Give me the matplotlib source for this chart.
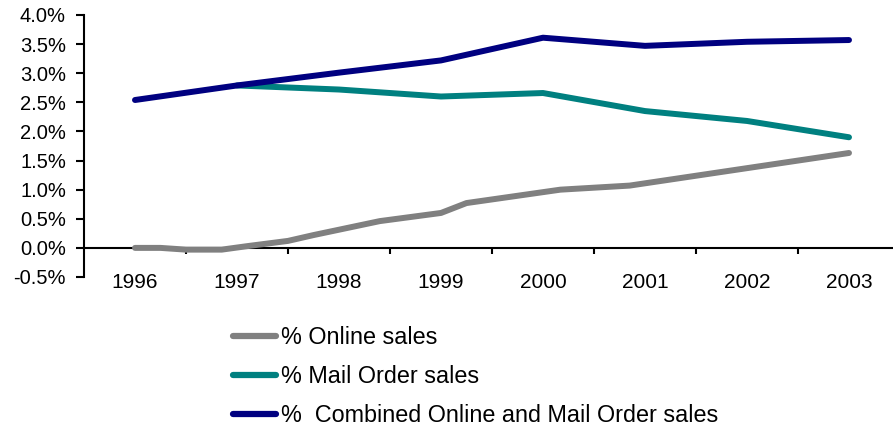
import matplotlib
matplotlib.use("Agg")
import matplotlib.pyplot as plt
import numpy as np
from matplotlib.ticker import FuncFormatter

plt.rcParams['font.family'] = ['Liberation Sans', 'DejaVu Sans']

years = ['1996', '1997', '1998', '1999', '2000', '2001', '2002', '2003']
combined_pct = [2.54, 2.79, 3.01, 3.22, 3.61, 3.47, 3.54, 3.57]
mail_pct = [np.nan, 2.79, 2.72, 2.60, 2.66, 2.35, 2.18, 1.90]
# online sales is reported more often than yearly (position in years after 1996)
online_pos = [0, 0.25, 0.5, 0.85, 1.1, 1.5, 1.75, 2.4, 3.0, 3.25, 4.17, 4.85, 7.0]
online_pct = [0.0, 0.0, -0.03, -0.03, 0.03, 0.12, 0.22, 0.46, 0.6, 0.77, 1.0, 1.07, 1.63]

W, H = 893, 430
fig = plt.figure(figsize=(W / 100, H / 100), dpi=100)
# plot area: left 84px, top 15px, bottom 277px, runs past the right edge
ax = fig.add_axes([84 / W, (H - 277) / H, 816 / W, 262 / H])

lw = 4.3
x = np.arange(len(years))
l1, = ax.plot(online_pos, online_pct, color='#808080', lw=lw, solid_capstyle='round',
              solid_joinstyle='round', label='% Online sales', zorder=3)
l2, = ax.plot(x, mail_pct, color='#008080', lw=lw, solid_capstyle='round',
              solid_joinstyle='round', label='% Mail Order sales', zorder=4)
l3, = ax.plot(x, combined_pct, color='#000080', lw=lw, solid_capstyle='round',
              solid_joinstyle='round', label='%  Combined Online and Mail Order sales', zorder=5)

ax.set_xlim(-0.5, 7.5)
ax.set_ylim(-0.5, 4.0)
ax.set_yticks(np.arange(-0.5, 4.01, 0.5))
ax.yaxis.set_major_formatter(FuncFormatter(lambda v, p: '%.1f%%' % v))

ax.set_xticks(x)
ax.set_xticklabels(years)
ax.set_xticks(np.arange(0.5, 7.5, 1), minor=True)
ax.tick_params(axis='x', which='major', length=0, pad=18, labelsize=15)
ax.tick_params(axis='x', which='minor', length=4.5, width=1.5, direction='out')
ax.tick_params(axis='y', length=6, width=1.5, direction='out', pad=7, labelsize=14.5)

for s in ['top', 'right']:
    ax.spines[s].set_visible(False)
ax.spines['left'].set_linewidth(1.5)
ax.spines['bottom'].set_linewidth(1.5)
ax.spines['bottom'].set_position(('data', 0))
ax.spines['bottom'].set_zorder(2)

leg = fig.legend(handles=[l1, l2, l3], loc='upper left',
                 bbox_to_anchor=(233 / W, 1 - 326 / H), frameon=False,
                 fontsize=16.8, handlelength=1.85, handletextpad=0.22,
                 labelspacing=0.68, borderaxespad=0, borderpad=0)
for h in leg.get_lines():
    h.set_linewidth(4.5)
    h.set_solid_capstyle('round')

fig.savefig('out.png', dpi=100)
